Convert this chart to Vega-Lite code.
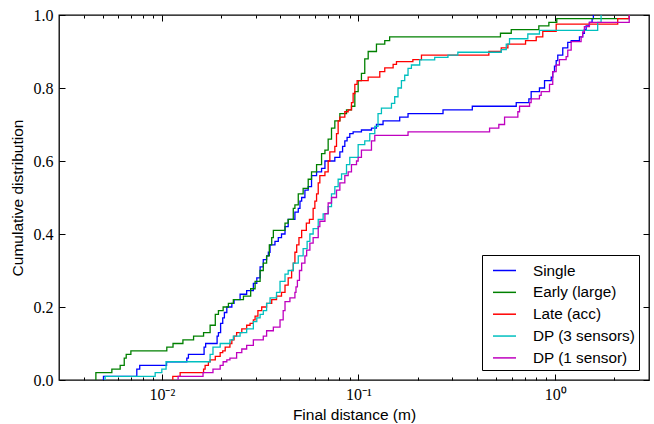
{
  "$schema": "https://vega.github.io/schema/vega-lite/v6.json",
  "width": 590,
  "height": 365,
  "autosize": {"type": "none"},
  "padding": {"left": 59, "top": 15, "right": 5, "bottom": 44},
  "background": "white",
  "config": {
    "view": {"stroke": "black", "strokeWidth": 1.3},
    "axis": {
      "grid": false, "domain": false, "tickColor": "black", "tickWidth": 1,
      "labelColor": "black", "titleColor": "black",
      "labelFont": "Liberation Serif", "labelFontSize": 16,
      "titleFont": "Liberation Sans", "titleFontSize": 15.5, "titleFontWeight": "normal"
    }
  },
  "data": {
    "values": [
      {"series": "Single", "distance": 0.00505, "cdf": 0},
      {"series": "Single", "distance": 0.00505, "cdf": 0.01},
      {"series": "Single", "distance": 0.00746, "cdf": 0.03},
      {"series": "Single", "distance": 0.00772, "cdf": 0.04},
      {"series": "Single", "distance": 0.01057, "cdf": 0.05},
      {"series": "Single", "distance": 0.0134, "cdf": 0.06},
      {"series": "Single", "distance": 0.01365, "cdf": 0.07},
      {"series": "Single", "distance": 0.0164, "cdf": 0.09},
      {"series": "Single", "distance": 0.0167, "cdf": 0.10},
      {"series": "Single", "distance": 0.0191, "cdf": 0.12},
      {"series": "Single", "distance": 0.0194, "cdf": 0.13},
      {"series": "Single", "distance": 0.0199, "cdf": 0.155},
      {"series": "Single", "distance": 0.0204, "cdf": 0.17},
      {"series": "Single", "distance": 0.0208, "cdf": 0.185},
      {"series": "Single", "distance": 0.0214, "cdf": 0.20},
      {"series": "Single", "distance": 0.0227, "cdf": 0.21},
      {"series": "Single", "distance": 0.0233, "cdf": 0.22},
      {"series": "Single", "distance": 0.0250, "cdf": 0.235},
      {"series": "Single", "distance": 0.0270, "cdf": 0.245},
      {"series": "Single", "distance": 0.0292, "cdf": 0.265},
      {"series": "Single", "distance": 0.0304, "cdf": 0.28},
      {"series": "Single", "distance": 0.0316, "cdf": 0.31},
      {"series": "Single", "distance": 0.0328, "cdf": 0.33},
      {"series": "Single", "distance": 0.0341, "cdf": 0.34},
      {"series": "Single", "distance": 0.0348, "cdf": 0.35},
      {"series": "Single", "distance": 0.0355, "cdf": 0.37},
      {"series": "Single", "distance": 0.0376, "cdf": 0.38},
      {"series": "Single", "distance": 0.0391, "cdf": 0.39},
      {"series": "Single", "distance": 0.0406, "cdf": 0.40},
      {"series": "Single", "distance": 0.0423, "cdf": 0.42},
      {"series": "Single", "distance": 0.0439, "cdf": 0.44},
      {"series": "Single", "distance": 0.0475, "cdf": 0.46},
      {"series": "Single", "distance": 0.0494, "cdf": 0.47},
      {"series": "Single", "distance": 0.0504, "cdf": 0.49},
      {"series": "Single", "distance": 0.0514, "cdf": 0.50},
      {"series": "Single", "distance": 0.0534, "cdf": 0.52},
      {"series": "Single", "distance": 0.0555, "cdf": 0.53},
      {"series": "Single", "distance": 0.0577, "cdf": 0.56},
      {"series": "Single", "distance": 0.0612, "cdf": 0.57},
      {"series": "Single", "distance": 0.0649, "cdf": 0.58},
      {"series": "Single", "distance": 0.0675, "cdf": 0.60},
      {"series": "Single", "distance": 0.0758, "cdf": 0.61},
      {"series": "Single", "distance": 0.0804, "cdf": 0.625},
      {"series": "Single", "distance": 0.0830, "cdf": 0.64},
      {"series": "Single", "distance": 0.0852, "cdf": 0.655},
      {"series": "Single", "distance": 0.0875, "cdf": 0.665},
      {"series": "Single", "distance": 0.0903, "cdf": 0.675},
      {"series": "Single", "distance": 0.0939, "cdf": 0.68},
      {"series": "Single", "distance": 0.1035, "cdf": 0.685},
      {"series": "Single", "distance": 0.1164, "cdf": 0.69},
      {"series": "Single", "distance": 0.1234, "cdf": 0.70},
      {"series": "Single", "distance": 0.1333, "cdf": 0.71},
      {"series": "Single", "distance": 0.162, "cdf": 0.72},
      {"series": "Single", "distance": 0.1786, "cdf": 0.73},
      {"series": "Single", "distance": 0.269, "cdf": 0.74},
      {"series": "Single", "distance": 0.379, "cdf": 0.75},
      {"series": "Single", "distance": 0.634, "cdf": 0.76},
      {"series": "Single", "distance": 0.735, "cdf": 0.77},
      {"series": "Single", "distance": 0.755, "cdf": 0.79},
      {"series": "Single", "distance": 0.832, "cdf": 0.80},
      {"series": "Single", "distance": 0.883, "cdf": 0.82},
      {"series": "Single", "distance": 0.955, "cdf": 0.83},
      {"series": "Single", "distance": 0.972, "cdf": 0.845},
      {"series": "Single", "distance": 0.992, "cdf": 0.86},
      {"series": "Single", "distance": 1.012, "cdf": 0.875},
      {"series": "Single", "distance": 1.031, "cdf": 0.89},
      {"series": "Single", "distance": 1.093, "cdf": 0.91},
      {"series": "Single", "distance": 1.159, "cdf": 0.925},
      {"series": "Single", "distance": 1.206, "cdf": 0.93},
      {"series": "Single", "distance": 1.329, "cdf": 0.94},
      {"series": "Single", "distance": 1.380, "cdf": 0.95},
      {"series": "Single", "distance": 1.408, "cdf": 0.96},
      {"series": "Single", "distance": 1.437, "cdf": 0.97},
      {"series": "Single", "distance": 1.493, "cdf": 0.98},
      {"series": "Single", "distance": 1.541, "cdf": 0.99},
      {"series": "Single", "distance": 1.564, "cdf": 1.0},

      {"series": "Early (large)", "distance": 0.00462, "cdf": 0},
      {"series": "Early (large)", "distance": 0.00462, "cdf": 0.02},
      {"series": "Early (large)", "distance": 0.00557, "cdf": 0.03},
      {"series": "Early (large)", "distance": 0.00614, "cdf": 0.04},
      {"series": "Early (large)", "distance": 0.00644, "cdf": 0.06},
      {"series": "Early (large)", "distance": 0.00659, "cdf": 0.07},
      {"series": "Early (large)", "distance": 0.00696, "cdf": 0.08},
      {"series": "Early (large)", "distance": 0.0106, "cdf": 0.09},
      {"series": "Early (large)", "distance": 0.0114, "cdf": 0.10},
      {"series": "Early (large)", "distance": 0.0128, "cdf": 0.11},
      {"series": "Early (large)", "distance": 0.0145, "cdf": 0.12},
      {"series": "Early (large)", "distance": 0.0163, "cdf": 0.13},
      {"series": "Early (large)", "distance": 0.0176, "cdf": 0.15},
      {"series": "Early (large)", "distance": 0.0187, "cdf": 0.18},
      {"series": "Early (large)", "distance": 0.0194, "cdf": 0.19},
      {"series": "Early (large)", "distance": 0.0205, "cdf": 0.20},
      {"series": "Early (large)", "distance": 0.0218, "cdf": 0.21},
      {"series": "Early (large)", "distance": 0.0231, "cdf": 0.22},
      {"series": "Early (large)", "distance": 0.0260, "cdf": 0.23},
      {"series": "Early (large)", "distance": 0.0283, "cdf": 0.25},
      {"series": "Early (large)", "distance": 0.0298, "cdf": 0.27},
      {"series": "Early (large)", "distance": 0.0316, "cdf": 0.30},
      {"series": "Early (large)", "distance": 0.0328, "cdf": 0.32},
      {"series": "Early (large)", "distance": 0.0341, "cdf": 0.34},
      {"series": "Early (large)", "distance": 0.0352, "cdf": 0.37},
      {"series": "Early (large)", "distance": 0.0362, "cdf": 0.39},
      {"series": "Early (large)", "distance": 0.0369, "cdf": 0.41},
      {"series": "Early (large)", "distance": 0.0423, "cdf": 0.43},
      {"series": "Early (large)", "distance": 0.0439, "cdf": 0.44},
      {"series": "Early (large)", "distance": 0.0466, "cdf": 0.47},
      {"series": "Early (large)", "distance": 0.0475, "cdf": 0.48},
      {"series": "Early (large)", "distance": 0.0494, "cdf": 0.51},
      {"series": "Early (large)", "distance": 0.0523, "cdf": 0.525},
      {"series": "Early (large)", "distance": 0.0555, "cdf": 0.55},
      {"series": "Early (large)", "distance": 0.0577, "cdf": 0.57},
      {"series": "Early (large)", "distance": 0.0612, "cdf": 0.59},
      {"series": "Early (large)", "distance": 0.0649, "cdf": 0.62},
      {"series": "Early (large)", "distance": 0.0675, "cdf": 0.63},
      {"series": "Early (large)", "distance": 0.0701, "cdf": 0.66},
      {"series": "Early (large)", "distance": 0.0729, "cdf": 0.69},
      {"series": "Early (large)", "distance": 0.0758, "cdf": 0.71},
      {"series": "Early (large)", "distance": 0.0804, "cdf": 0.73},
      {"series": "Early (large)", "distance": 0.0869, "cdf": 0.74},
      {"series": "Early (large)", "distance": 0.0921, "cdf": 0.75},
      {"series": "Early (large)", "distance": 0.0958, "cdf": 0.79},
      {"series": "Early (large)", "distance": 0.0996, "cdf": 0.82},
      {"series": "Early (large)", "distance": 0.1035, "cdf": 0.84},
      {"series": "Early (large)", "distance": 0.1076, "cdf": 0.88},
      {"series": "Early (large)", "distance": 0.112, "cdf": 0.90},
      {"series": "Early (large)", "distance": 0.1234, "cdf": 0.92},
      {"series": "Early (large)", "distance": 0.136, "cdf": 0.93},
      {"series": "Early (large)", "distance": 0.144, "cdf": 0.94},
      {"series": "Early (large)", "distance": 0.527, "cdf": 0.95},
      {"series": "Early (large)", "distance": 0.598, "cdf": 0.96},
      {"series": "Early (large)", "distance": 0.826, "cdf": 0.97},
      {"series": "Early (large)", "distance": 0.929, "cdf": 0.98},
      {"series": "Early (large)", "distance": 1.019, "cdf": 0.99},
      {"series": "Early (large)", "distance": 2.38, "cdf": 1.0},

      {"series": "Late (acc)", "distance": 0.01137, "cdf": 0},
      {"series": "Late (acc)", "distance": 0.01137, "cdf": 0.01},
      {"series": "Late (acc)", "distance": 0.01239, "cdf": 0.02},
      {"series": "Late (acc)", "distance": 0.0163, "cdf": 0.03},
      {"series": "Late (acc)", "distance": 0.0166, "cdf": 0.04},
      {"series": "Late (acc)", "distance": 0.01725, "cdf": 0.05},
      {"series": "Late (acc)", "distance": 0.0176, "cdf": 0.055},
      {"series": "Late (acc)", "distance": 0.0187, "cdf": 0.065},
      {"series": "Late (acc)", "distance": 0.0198, "cdf": 0.075},
      {"series": "Late (acc)", "distance": 0.0204, "cdf": 0.08},
      {"series": "Late (acc)", "distance": 0.0210, "cdf": 0.09},
      {"series": "Late (acc)", "distance": 0.0222, "cdf": 0.10},
      {"series": "Late (acc)", "distance": 0.0227, "cdf": 0.11},
      {"series": "Late (acc)", "distance": 0.0233, "cdf": 0.12},
      {"series": "Late (acc)", "distance": 0.0240, "cdf": 0.13},
      {"series": "Late (acc)", "distance": 0.0255, "cdf": 0.14},
      {"series": "Late (acc)", "distance": 0.0270, "cdf": 0.15},
      {"series": "Late (acc)", "distance": 0.0281, "cdf": 0.155},
      {"series": "Late (acc)", "distance": 0.0292, "cdf": 0.165},
      {"series": "Late (acc)", "distance": 0.0298, "cdf": 0.175},
      {"series": "Late (acc)", "distance": 0.0308, "cdf": 0.19},
      {"series": "Late (acc)", "distance": 0.0322, "cdf": 0.20},
      {"series": "Late (acc)", "distance": 0.0341, "cdf": 0.21},
      {"series": "Late (acc)", "distance": 0.0362, "cdf": 0.22},
      {"series": "Late (acc)", "distance": 0.0383, "cdf": 0.23},
      {"series": "Late (acc)", "distance": 0.0406, "cdf": 0.24},
      {"series": "Late (acc)", "distance": 0.0423, "cdf": 0.26},
      {"series": "Late (acc)", "distance": 0.0439, "cdf": 0.28},
      {"series": "Late (acc)", "distance": 0.0457, "cdf": 0.30},
      {"series": "Late (acc)", "distance": 0.0466, "cdf": 0.32},
      {"series": "Late (acc)", "distance": 0.0475, "cdf": 0.35},
      {"series": "Late (acc)", "distance": 0.0485, "cdf": 0.37},
      {"series": "Late (acc)", "distance": 0.0498, "cdf": 0.39},
      {"series": "Late (acc)", "distance": 0.0514, "cdf": 0.41},
      {"series": "Late (acc)", "distance": 0.0543, "cdf": 0.43},
      {"series": "Late (acc)", "distance": 0.0563, "cdf": 0.44},
      {"series": "Late (acc)", "distance": 0.0588, "cdf": 0.47},
      {"series": "Late (acc)", "distance": 0.0600, "cdf": 0.49},
      {"series": "Late (acc)", "distance": 0.0612, "cdf": 0.51},
      {"series": "Late (acc)", "distance": 0.0624, "cdf": 0.54},
      {"series": "Late (acc)", "distance": 0.0636, "cdf": 0.56},
      {"series": "Late (acc)", "distance": 0.0675, "cdf": 0.57},
      {"series": "Late (acc)", "distance": 0.0701, "cdf": 0.60},
      {"series": "Late (acc)", "distance": 0.0715, "cdf": 0.625},
      {"series": "Late (acc)", "distance": 0.0758, "cdf": 0.64},
      {"series": "Late (acc)", "distance": 0.0773, "cdf": 0.675},
      {"series": "Late (acc)", "distance": 0.0788, "cdf": 0.71},
      {"series": "Late (acc)", "distance": 0.0804, "cdf": 0.72},
      {"series": "Late (acc)", "distance": 0.0852, "cdf": 0.735},
      {"series": "Late (acc)", "distance": 0.0886, "cdf": 0.74},
      {"series": "Late (acc)", "distance": 0.0921, "cdf": 0.76},
      {"series": "Late (acc)", "distance": 0.0939, "cdf": 0.785},
      {"series": "Late (acc)", "distance": 0.0958, "cdf": 0.81},
      {"series": "Late (acc)", "distance": 0.0984, "cdf": 0.82},
      {"series": "Late (acc)", "distance": 0.112, "cdf": 0.83},
      {"series": "Late (acc)", "distance": 0.1283, "cdf": 0.845},
      {"series": "Late (acc)", "distance": 0.136, "cdf": 0.855},
      {"series": "Late (acc)", "distance": 0.150, "cdf": 0.865},
      {"series": "Late (acc)", "distance": 0.156, "cdf": 0.872},
      {"series": "Late (acc)", "distance": 0.189, "cdf": 0.878},
      {"series": "Late (acc)", "distance": 0.209, "cdf": 0.89},
      {"series": "Late (acc)", "distance": 0.460, "cdf": 0.90},
      {"series": "Late (acc)", "distance": 0.532, "cdf": 0.91},
      {"series": "Late (acc)", "distance": 0.575, "cdf": 0.92},
      {"series": "Late (acc)", "distance": 0.707, "cdf": 0.93},
      {"series": "Late (acc)", "distance": 0.801, "cdf": 0.94},
      {"series": "Late (acc)", "distance": 0.865, "cdf": 0.955},
      {"series": "Late (acc)", "distance": 1.012, "cdf": 0.975},
      {"series": "Late (acc)", "distance": 2.08, "cdf": 0.99},
      {"series": "Late (acc)", "distance": 2.38, "cdf": 1.0},

      {"series": "DP (3 sensors)", "distance": 0.00515, "cdf": 0},
      {"series": "DP (3 sensors)", "distance": 0.00515, "cdf": 0.01},
      {"series": "DP (3 sensors)", "distance": 0.00925, "cdf": 0.02},
      {"series": "DP (3 sensors)", "distance": 0.0100, "cdf": 0.03},
      {"series": "DP (3 sensors)", "distance": 0.01051, "cdf": 0.05},
      {"series": "DP (3 sensors)", "distance": 0.0176, "cdf": 0.07},
      {"series": "DP (3 sensors)", "distance": 0.0182, "cdf": 0.09},
      {"series": "DP (3 sensors)", "distance": 0.0198, "cdf": 0.10},
      {"series": "DP (3 sensors)", "distance": 0.0222, "cdf": 0.11},
      {"series": "DP (3 sensors)", "distance": 0.0231, "cdf": 0.12},
      {"series": "DP (3 sensors)", "distance": 0.0250, "cdf": 0.13},
      {"series": "DP (3 sensors)", "distance": 0.0270, "cdf": 0.14},
      {"series": "DP (3 sensors)", "distance": 0.0292, "cdf": 0.16},
      {"series": "DP (3 sensors)", "distance": 0.0304, "cdf": 0.17},
      {"series": "DP (3 sensors)", "distance": 0.0316, "cdf": 0.18},
      {"series": "DP (3 sensors)", "distance": 0.0328, "cdf": 0.19},
      {"series": "DP (3 sensors)", "distance": 0.0341, "cdf": 0.21},
      {"series": "DP (3 sensors)", "distance": 0.0355, "cdf": 0.225},
      {"series": "DP (3 sensors)", "distance": 0.0383, "cdf": 0.24},
      {"series": "DP (3 sensors)", "distance": 0.0399, "cdf": 0.27},
      {"series": "DP (3 sensors)", "distance": 0.0423, "cdf": 0.29},
      {"series": "DP (3 sensors)", "distance": 0.0439, "cdf": 0.30},
      {"series": "DP (3 sensors)", "distance": 0.0466, "cdf": 0.32},
      {"series": "DP (3 sensors)", "distance": 0.0494, "cdf": 0.34},
      {"series": "DP (3 sensors)", "distance": 0.0523, "cdf": 0.36},
      {"series": "DP (3 sensors)", "distance": 0.0548, "cdf": 0.38},
      {"series": "DP (3 sensors)", "distance": 0.0566, "cdf": 0.40},
      {"series": "DP (3 sensors)", "distance": 0.0588, "cdf": 0.415},
      {"series": "DP (3 sensors)", "distance": 0.0624, "cdf": 0.44},
      {"series": "DP (3 sensors)", "distance": 0.0661, "cdf": 0.455},
      {"series": "DP (3 sensors)", "distance": 0.0701, "cdf": 0.475},
      {"series": "DP (3 sensors)", "distance": 0.0729, "cdf": 0.51},
      {"series": "DP (3 sensors)", "distance": 0.0758, "cdf": 0.53},
      {"series": "DP (3 sensors)", "distance": 0.0788, "cdf": 0.55},
      {"series": "DP (3 sensors)", "distance": 0.0820, "cdf": 0.565},
      {"series": "DP (3 sensors)", "distance": 0.0869, "cdf": 0.59},
      {"series": "DP (3 sensors)", "distance": 0.0903, "cdf": 0.61},
      {"series": "DP (3 sensors)", "distance": 0.0996, "cdf": 0.645},
      {"series": "DP (3 sensors)", "distance": 0.1076, "cdf": 0.655},
      {"series": "DP (3 sensors)", "distance": 0.1141, "cdf": 0.675},
      {"series": "DP (3 sensors)", "distance": 0.121, "cdf": 0.695},
      {"series": "DP (3 sensors)", "distance": 0.1257, "cdf": 0.73},
      {"series": "DP (3 sensors)", "distance": 0.1308, "cdf": 0.745},
      {"series": "DP (3 sensors)", "distance": 0.1471, "cdf": 0.758},
      {"series": "DP (3 sensors)", "distance": 0.1528, "cdf": 0.776},
      {"series": "DP (3 sensors)", "distance": 0.1588, "cdf": 0.80},
      {"series": "DP (3 sensors)", "distance": 0.1653, "cdf": 0.82},
      {"series": "DP (3 sensors)", "distance": 0.1718, "cdf": 0.835},
      {"series": "DP (3 sensors)", "distance": 0.1786, "cdf": 0.854},
      {"series": "DP (3 sensors)", "distance": 0.1858, "cdf": 0.863},
      {"series": "DP (3 sensors)", "distance": 0.2047, "cdf": 0.877},
      {"series": "DP (3 sensors)", "distance": 0.244, "cdf": 0.884},
      {"series": "DP (3 sensors)", "distance": 0.285, "cdf": 0.89},
      {"series": "DP (3 sensors)", "distance": 0.320, "cdf": 0.898},
      {"series": "DP (3 sensors)", "distance": 0.532, "cdf": 0.905},
      {"series": "DP (3 sensors)", "distance": 0.564, "cdf": 0.92},
      {"series": "DP (3 sensors)", "distance": 0.586, "cdf": 0.935},
      {"series": "DP (3 sensors)", "distance": 0.726, "cdf": 0.948},
      {"series": "DP (3 sensors)", "distance": 0.832, "cdf": 0.958},
      {"series": "DP (3 sensors)", "distance": 1.645, "cdf": 0.98},
      {"series": "DP (3 sensors)", "distance": 1.712, "cdf": 1.0},

      {"series": "DP (1 sensor)", "distance": 0.0121, "cdf": 0},
      {"series": "DP (1 sensor)", "distance": 0.0121, "cdf": 0.01},
      {"series": "DP (1 sensor)", "distance": 0.0162, "cdf": 0.02},
      {"series": "DP (1 sensor)", "distance": 0.0182, "cdf": 0.03},
      {"series": "DP (1 sensor)", "distance": 0.0198, "cdf": 0.04},
      {"series": "DP (1 sensor)", "distance": 0.0205, "cdf": 0.05},
      {"series": "DP (1 sensor)", "distance": 0.0214, "cdf": 0.055},
      {"series": "DP (1 sensor)", "distance": 0.0222, "cdf": 0.06},
      {"series": "DP (1 sensor)", "distance": 0.0240, "cdf": 0.075},
      {"series": "DP (1 sensor)", "distance": 0.0255, "cdf": 0.085},
      {"series": "DP (1 sensor)", "distance": 0.0270, "cdf": 0.095},
      {"series": "DP (1 sensor)", "distance": 0.0292, "cdf": 0.11},
      {"series": "DP (1 sensor)", "distance": 0.0328, "cdf": 0.12},
      {"series": "DP (1 sensor)", "distance": 0.0341, "cdf": 0.135},
      {"series": "DP (1 sensor)", "distance": 0.0369, "cdf": 0.145},
      {"series": "DP (1 sensor)", "distance": 0.0399, "cdf": 0.165},
      {"series": "DP (1 sensor)", "distance": 0.0414, "cdf": 0.19},
      {"series": "DP (1 sensor)", "distance": 0.0423, "cdf": 0.215},
      {"series": "DP (1 sensor)", "distance": 0.0448, "cdf": 0.225},
      {"series": "DP (1 sensor)", "distance": 0.0475, "cdf": 0.24},
      {"series": "DP (1 sensor)", "distance": 0.0481, "cdf": 0.255},
      {"series": "DP (1 sensor)", "distance": 0.0489, "cdf": 0.273},
      {"series": "DP (1 sensor)", "distance": 0.0501, "cdf": 0.30},
      {"series": "DP (1 sensor)", "distance": 0.0514, "cdf": 0.32},
      {"series": "DP (1 sensor)", "distance": 0.0534, "cdf": 0.34},
      {"series": "DP (1 sensor)", "distance": 0.0545, "cdf": 0.356},
      {"series": "DP (1 sensor)", "distance": 0.0566, "cdf": 0.375},
      {"series": "DP (1 sensor)", "distance": 0.0588, "cdf": 0.39},
      {"series": "DP (1 sensor)", "distance": 0.0624, "cdf": 0.42},
      {"series": "DP (1 sensor)", "distance": 0.0636, "cdf": 0.435},
      {"series": "DP (1 sensor)", "distance": 0.0675, "cdf": 0.456},
      {"series": "DP (1 sensor)", "distance": 0.0701, "cdf": 0.485},
      {"series": "DP (1 sensor)", "distance": 0.0729, "cdf": 0.50},
      {"series": "DP (1 sensor)", "distance": 0.0773, "cdf": 0.52},
      {"series": "DP (1 sensor)", "distance": 0.0804, "cdf": 0.54},
      {"series": "DP (1 sensor)", "distance": 0.0852, "cdf": 0.56},
      {"series": "DP (1 sensor)", "distance": 0.0886, "cdf": 0.57},
      {"series": "DP (1 sensor)", "distance": 0.0921, "cdf": 0.59},
      {"series": "DP (1 sensor)", "distance": 0.0977, "cdf": 0.60},
      {"series": "DP (1 sensor)", "distance": 0.0996, "cdf": 0.61},
      {"series": "DP (1 sensor)", "distance": 0.1035, "cdf": 0.63},
      {"series": "DP (1 sensor)", "distance": 0.1164, "cdf": 0.655},
      {"series": "DP (1 sensor)", "distance": 0.121, "cdf": 0.67},
      {"series": "DP (1 sensor)", "distance": 0.1786, "cdf": 0.68},
      {"series": "DP (1 sensor)", "distance": 0.464, "cdf": 0.69},
      {"series": "DP (1 sensor)", "distance": 0.517, "cdf": 0.70},
      {"series": "DP (1 sensor)", "distance": 0.553, "cdf": 0.72},
      {"series": "DP (1 sensor)", "distance": 0.646, "cdf": 0.735},
      {"series": "DP (1 sensor)", "distance": 0.659, "cdf": 0.75},
      {"series": "DP (1 sensor)", "distance": 0.741, "cdf": 0.76},
      {"series": "DP (1 sensor)", "distance": 0.755, "cdf": 0.77},
      {"series": "DP (1 sensor)", "distance": 0.832, "cdf": 0.78},
      {"series": "DP (1 sensor)", "distance": 0.849, "cdf": 0.79},
      {"series": "DP (1 sensor)", "distance": 0.936, "cdf": 0.81},
      {"series": "DP (1 sensor)", "distance": 0.972, "cdf": 0.845},
      {"series": "DP (1 sensor)", "distance": 1.012, "cdf": 0.863},
      {"series": "DP (1 sensor)", "distance": 1.051, "cdf": 0.878},
      {"series": "DP (1 sensor)", "distance": 1.137, "cdf": 0.886},
      {"series": "DP (1 sensor)", "distance": 1.159, "cdf": 0.904},
      {"series": "DP (1 sensor)", "distance": 1.206, "cdf": 0.927},
      {"series": "DP (1 sensor)", "distance": 1.355, "cdf": 0.94},
      {"series": "DP (1 sensor)", "distance": 1.380, "cdf": 0.954},
      {"series": "DP (1 sensor)", "distance": 1.408, "cdf": 0.968},
      {"series": "DP (1 sensor)", "distance": 1.493, "cdf": 0.98},
      {"series": "DP (1 sensor)", "distance": 2.38, "cdf": 1.0}
    ]
  },
  "layer": [
    {
      "mark": {"type": "line", "interpolate": "step-after", "strokeWidth": 1.3, "clip": true},
      "encoding": {
        "x": {
          "field": "distance", "type": "quantitative",
          "scale": {"type": "log", "domain": [0.003, 3], "nice": false},
          "axis": {
            "orient": "bottom", "values": [0.01, 0.1, 1], "tickSize": -6, "labelPadding": 12,
            "labelFont": "Liberation Serif", "labelFontSize": 16,
            "labelExpr": "'10' + (datum.value < 0.05 ? '⁻²' : datum.value < 0.5 ? '⁻¹' : '⁰')",
            "title": "Final distance (m)", "titleY": 39, "titleBaseline": "alphabetic"
          }
        },
        "y": {
          "field": "cdf", "type": "quantitative",
          "scale": {"domain": [0, 1], "nice": false},
          "axis": {
            "orient": "left", "values": [0, 0.2, 0.4, 0.6, 0.8, 1], "format": ".1f",
            "tickSize": -6, "labelPadding": 12,
            "labelFont": "Liberation Serif", "labelFontSize": 16,
            "title": "Cumulative distribution", "titleX": -42, "titleY": 182.5,
            "titleAngle": -90, "titleAlign": "center", "titleBaseline": "middle"
          }
        },
        "color": {
          "field": "series", "type": "nominal",
          "scale": {
            "domain": ["Single", "Early (large)", "Late (acc)", "DP (3 sensors)", "DP (1 sensor)"],
            "range": ["#0000ff", "#008000", "#ff0000", "#00bfbf", "#bf00bf"]
          },
          "legend": {
            "orient": "none", "legendX": 423, "legendY": 240, "title": null,
            "strokeColor": "black", "fillColor": "white", "padding": 3,
            "symbolType": "stroke", "symbolSize": 529, "symbolStrokeWidth": 1.5, "symbolOffset": 7,
            "labelFont": "Liberation Sans", "labelFontSize": 15.3, "labelColor": "black",
            "labelOffset": 16, "rowPadding": 0.85
          }
        },
        "order": {"field": "cdf", "type": "quantitative"}
      }
    },
    {
      "mark": {"type": "point", "opacity": 0},
      "encoding": {
        "x": {
          "field": "distance", "type": "quantitative",
          "scale": {"type": "log", "domain": [0.003, 3], "nice": false},
          "axis": {
            "orient": "bottom", "tickSize": -3, "labels": false, "title": null,
            "values": [0.004, 0.005, 0.006, 0.007, 0.008, 0.009, 0.02, 0.03, 0.04, 0.05, 0.06, 0.07, 0.08, 0.09, 0.2, 0.3, 0.4, 0.5, 0.6, 0.7, 0.8, 0.9, 2]
          }
        },
        "y": {
          "field": "cdf", "type": "quantitative",
          "scale": {"domain": [0, 1], "nice": false},
          "axis": {"orient": "right", "values": [0, 0.2, 0.4, 0.6, 0.8, 1], "tickSize": -6, "labels": false, "title": null}
        }
      }
    },
    {
      "mark": {"type": "point", "opacity": 0},
      "encoding": {
        "x": {
          "field": "distance", "type": "quantitative",
          "scale": {"type": "log", "domain": [0.003, 3], "nice": false},
          "axis": {"orient": "top", "values": [0.01, 0.1, 1], "tickSize": -6, "labels": false, "title": null}
        },
        "y": {
          "field": "cdf", "type": "quantitative",
          "scale": {"domain": [0, 1], "nice": false},
          "axis": null
        }
      }
    },
    {
      "mark": {"type": "point", "opacity": 0},
      "encoding": {
        "x": {
          "field": "distance", "type": "quantitative",
          "scale": {"type": "log", "domain": [0.003, 3], "nice": false},
          "axis": {
            "orient": "top", "tickSize": -3, "labels": false, "title": null,
            "values": [0.004, 0.005, 0.006, 0.007, 0.008, 0.009, 0.02, 0.03, 0.04, 0.05, 0.06, 0.07, 0.08, 0.09, 0.2, 0.3, 0.4, 0.5, 0.6, 0.7, 0.8, 0.9, 2]
          }
        },
        "y": {
          "field": "cdf", "type": "quantitative",
          "scale": {"domain": [0, 1], "nice": false},
          "axis": null
        }
      }
    }
  ],
  "resolve": {"axis": {"x": "independent", "y": "independent"}}
}
